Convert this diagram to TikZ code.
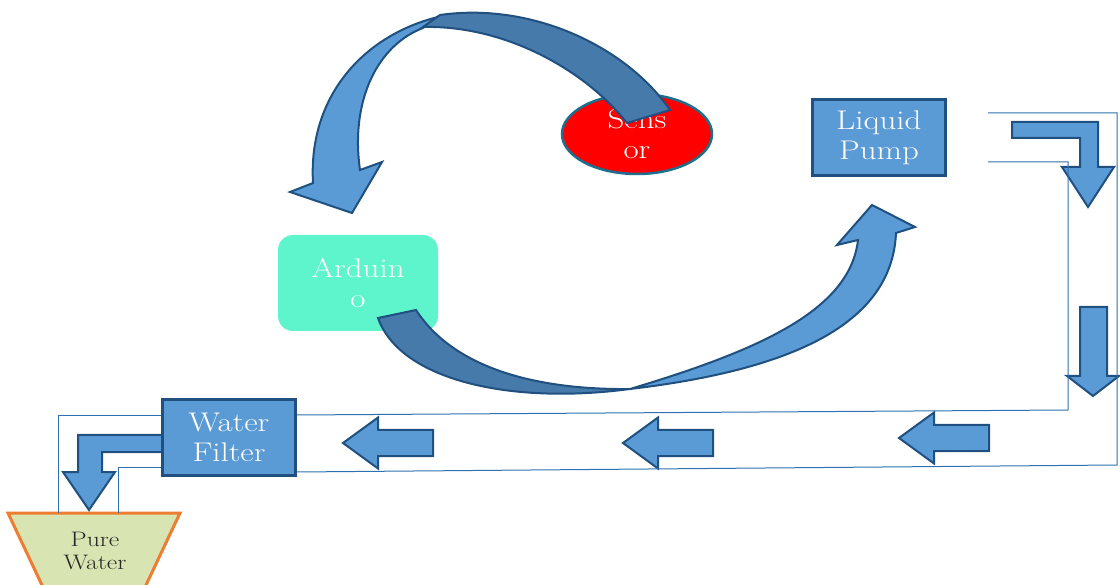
\documentclass[tikz,border=0pt]{standalone}
\usepackage{graphicx}
\usetikzlibrary{shapes.geometric}
\definecolor{flowblue}{RGB}{91,155,213}
\definecolor{shadeblue}{RGB}{70,122,170}
\definecolor{navy}{RGB}{31,80,128}
\definecolor{pipeblue}{RGB}{46,112,176}
\definecolor{mint}{RGB}{94,245,204}
\definecolor{teal}{RGB}{28,112,142}
\definecolor{tankfill}{RGB}{216,228,178}
\definecolor{tankline}{RGB}{237,125,49}
\newcommand{\widetext}[1]{\scalebox{1.22}[1]{#1}}
\tikzset{
    every node/.style={text=white, align=center, inner sep=0pt,
    	font=\fontsize{27}{30}\selectfont}
}
\tikzset{
    unit/.style={draw=navy, fill=flowblue, line width=2.5pt,
    	minimum width=133pt, minimum height=76pt}
}
\tikzset{
    pipe/.style={draw=pipeblue, line width=1pt},
    blockarrow/.style={draw=navy, fill=flowblue, line width=2pt, line join=miter},
    backface/.style={blockarrow, fill=shadeblue}
}

\begin{document}
\begin{tikzpicture}[x=1pt, y=-1pt]
  \useasboundingbox (0,0) rectangle (1120,585);

  \draw [draw=tankline, fill=tankfill, line width=3pt] (8,513) -- (180,513) -- (139,600) -- (49,600) -- cycle;

  \draw [blockarrow] (1012,122) -- (1098,122) -- (1098,167) -- (1114,167) -- (1088,207)
    -- (1062,167) -- (1080,167) -- (1080,138) -- (1012,138) -- cycle;
  \draw [blockarrow] (1080,307) -- (1107,307) -- (1107,376) -- (1119,376) -- (1093,396)
    -- (1067,376) -- (1080,376) -- cycle;
  \foreach \tx/\ty in {343/443, 623/443, 899/438}
    \draw [blockarrow] (\tx,\ty) -- ++(35,-25.5) -- ++(0,12.5) -- ++(55,0) -- ++(0,26)
      -- ++(-55,0) -- ++(0,12.5) -- cycle;
  \draw [blockarrow] (166,435) -- (78,435) -- (78,472) -- (63,472) -- (89,510)
    -- (115,472) -- (102,472) -- (102,452) -- (166,452) -- cycle;

  \node (pump) [unit] at (879,137.5) {\widetext{Liquid}\\\widetext{Pump}};
  \node (filter) [unit] at (229,437.5) {\widetext{Water}\\\widetext{Filter}};
  \node (arduino) [fill=mint, rounded corners=15pt, minimum width=160pt,
    minimum height=96pt] at (358,283) {\widetext{Arduin}\\\widetext{o}};
  \node (sensor) [ellipse, fill=red, draw=teal, line width=2.5pt, minimum width=150pt,
    minimum height=80pt] at (637,134) {\widetext{Sens}\\\widetext{or}};
  \node (pure) [text={rgb,255:red,40;green,40;blue,40},
    font=\fontsize{21}{23}\selectfont] at (95,551) {\widetext{Pure}\\\widetext{Water}};

  \draw [blockarrow] (438,17) .. controls (365,35) and (308,95) .. (313,183) -- (290,192)
    -- (352,213) -- (382,162) -- (360,170) .. controls (350,100) and (378,45) .. (423,28) -- cycle;
  \draw [backface] (627,123) .. controls (585,70) and (505,25) .. (423,27) -- (440,15)
    .. controls (530,2) and (625,45) .. (670,110) -- cycle;
  \draw [backface] (378,318) .. controls (400,380) and (510,405) .. (630,389)
    .. controls (540,390) and (455,370) .. (416,310) -- cycle;
  \draw [blockarrow] (630,389) .. controls (790,370) and (892,325) .. (896,233) -- (915,227)
    -- (872,205) -- (837,245) -- (858,240) .. controls (850,310) and (760,350) .. (630,389) -- cycle;

  \coordinate (outA) at (988,113);
  \coordinate (outB) at (988,162);
  \draw [pipe] (outA) -- (1117,113) -- (1117,465) -- (filter.east |- 0,472);
  \draw [pipe] (outB) -- (1068,162) -- (1068,410) -- (filter.east |- 0,415);
  \draw [pipe] (filter.west |- 0,416) -- (58,416) -- (58,513);
  \draw [pipe] (filter.west |- 0,467) -- (118,467) -- (118,513);
\end{tikzpicture}
\end{document}
